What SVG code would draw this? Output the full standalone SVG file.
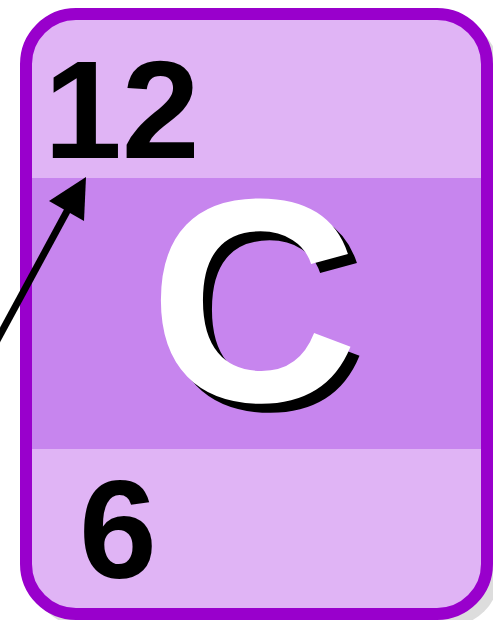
<svg xmlns="http://www.w3.org/2000/svg" width="493" height="620" viewBox="0 0 493 620">
<style>
.num{font-family:"Liberation Sans",Arial,sans-serif;font-weight:bold;fill:#000}
.sym{font-family:"Liberation Sans",Arial,sans-serif;font-weight:bold}
</style>
<rect width="493" height="620" fill="#fff"/>
<g id="card">
<rect x="32" y="20" width="467" height="606" rx="50" ry="50" fill="#dddddd"/>
<rect x="26" y="14" width="461" height="600" rx="50" ry="50" fill="#e0b4f5"/>
<rect x="32" y="178" width="456" height="271" fill="#c785ee"/>
<rect x="26" y="14" width="461" height="600" rx="50" ry="50" fill="none" stroke="#9900cc" stroke-width="12"/>
</g>
<g id="mass">
<text class="num" x="44" y="158" font-size="140">12</text>
</g>
<g id="symbol">
<text class="sym" x="158" y="410" font-size="290" fill="#000">C</text>
<text class="sym" x="149" y="401" font-size="290" fill="#fff">C</text>
</g>
<g id="number">
<text class="num" x="79" y="578" font-size="140">6</text>
</g>
<g id="connectors">
<line x1="-6" y1="346" x2="72" y2="202" stroke="#000" stroke-width="7"/>
<path d="M86,177 L84,221 L49,201 Z" fill="#000"/>
</g>
</svg>
